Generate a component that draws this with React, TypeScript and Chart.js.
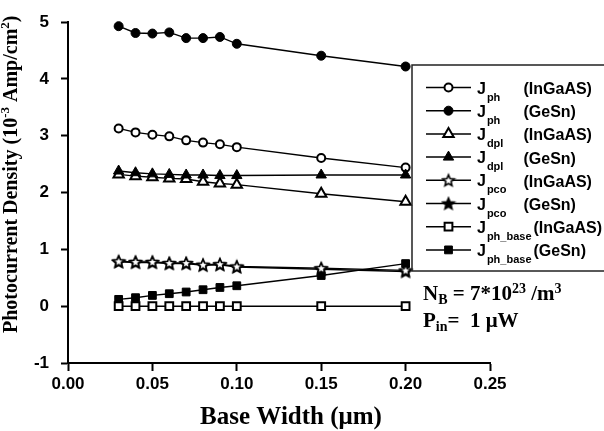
import React, { useEffect, useRef } from 'react';
import { Chart, registerables } from 'chart.js';

Chart.register(...registerables);

// ---------- data ----------
const baseWidth = [0.03, 0.04, 0.05, 0.06, 0.07, 0.08, 0.09, 0.1, 0.15, 0.2];
const jphInGaAs = [3.13, 3.06, 3.02, 2.99, 2.92, 2.88, 2.85, 2.8, 2.61, 2.44];
const jphGeSn = [4.93, 4.81, 4.8, 4.82, 4.72, 4.72, 4.74, 4.62, 4.41, 4.22];
const jdplInGaAs = [2.32, 2.29, 2.27, 2.25, 2.24, 2.19, 2.16, 2.14, 1.98, 1.84];
const jdplGeSn = [2.38, 2.35, 2.33, 2.32, 2.31, 2.31, 2.3, 2.3, 2.31, 2.31];
const jpcoInGaAs = [0.79, 0.78, 0.78, 0.76, 0.76, 0.73, 0.74, 0.7, 0.67, 0.63];
const jpcoGeSn = [0.78, 0.77, 0.77, 0.75, 0.75, 0.72, 0.73, 0.69, 0.65, 0.61];
const jphBaseInGaAs = [0, 0, 0, 0, 0, 0, 0, 0, 0, 0];
const jphBaseGeSn = [0.12, 0.15, 0.19, 0.22, 0.25, 0.29, 0.33, 0.36, 0.54, 0.75];

const xTicks = [0, 0.05, 0.1, 0.15, 0.2, 0.25];
const yTicks = [-1, 0, 1, 2, 3, 4, 5];

const legendSubs = ['ph', 'ph', 'dpl', 'dpl', 'pco', 'pco', 'ph_base', 'ph_base'];
const legendMaterials = ['(InGaAS)', '(GeSn)', '(InGaAS)', '(GeSn)', '(InGaAS)', '(GeSn)', '(InGaAS)', '(GeSn)'];

const xTitle = 'Base Width (\u03bcm)';
const noteNB = ['N', 'B', ' = 7*10', '23', ' /m', '3'];
const notePin = ['P', 'in', '=  1 \u03bcW'];

// ---------- styles ----------
const SANS = "'Liberation Sans', Arial, sans-serif";
const SERIF = "'Liberation Serif', 'Times New Roman', serif";

type Marker = { shape: 'circle' | 'triangle' | 'rect' | 'star'; filled: boolean; r: number };
const markers: Marker[] = [
  { shape: 'circle', filled: false, r: 4 },
  { shape: 'circle', filled: true, r: 4.5 },
  { shape: 'triangle', filled: false, r: 6 },
  { shape: 'triangle', filled: true, r: 6 },
  { shape: 'star', filled: false, r: 6 },
  { shape: 'star', filled: true, r: 6 },
  { shape: 'rect', filled: false, r: 5.5 },
  { shape: 'rect', filled: true, r: 5.5 },
];
const seriesValues = [jphInGaAs, jphGeSn, jdplInGaAs, jdplGeSn, jpcoInGaAs, jpcoGeSn, jphBaseInGaAs, jphBaseGeSn];
const drawOrder = [2, 1, 3, 1, 1, 4, 2, 3];

function starPath(ctx: CanvasRenderingContext2D, cx: number, cy: number, ro: number, ri: number) {
  ctx.beginPath();
  for (let i = 0; i < 10; i++) {
    const a = -Math.PI / 2 + (i * Math.PI) / 5;
    const rr = i % 2 === 0 ? ro : ri;
    const px = cx + Math.cos(a) * rr;
    const py = cy + Math.sin(a) * rr;
    if (i === 0) ctx.moveTo(px, py);
    else ctx.lineTo(px, py);
  }
  ctx.closePath();
}

function makeStar(filled: boolean, r: number): HTMLCanvasElement {
  const c = document.createElement('canvas');
  const s = Math.ceil(r * 2 + 4);
  c.width = s;
  c.height = s;
  const g = c.getContext('2d')!;
  starPath(g, s / 2, s / 2 + 0.5, r, r * 0.45);
  g.fillStyle = filled ? '#000' : '#fff';
  g.fill();
  g.lineWidth = 1.6;
  g.strokeStyle = '#000';
  g.lineJoin = 'miter';
  g.stroke();
  return c;
}

function drawMarker(ctx: CanvasRenderingContext2D, m: Marker, x: number, y: number, star?: HTMLCanvasElement) {
  ctx.save();
  ctx.fillStyle = m.filled ? '#000' : '#fff';
  ctx.strokeStyle = '#000';
  ctx.lineWidth = m.filled ? 1 : 2;
  if (m.shape === 'star' && star) {
    ctx.drawImage(star, x - star.width / 2, y - star.height / 2);
  } else {
    ctx.beginPath();
    if (m.shape === 'circle') {
      ctx.arc(x, y, m.r, 0, Math.PI * 2);
    } else if (m.shape === 'triangle') {
      for (let i = 0; i < 3; i++) {
        const a = (i * 2 * Math.PI) / 3;
        const px = x + Math.sin(a) * m.r;
        const py = y - Math.cos(a) * m.r;
        if (i === 0) ctx.moveTo(px, py);
        else ctx.lineTo(px, py);
      }
      ctx.closePath();
    } else {
      const h = Math.SQRT1_2 * m.r;
      ctx.rect(x - h, y - h, 2 * h, 2 * h);
    }
    ctx.fill();
    ctx.stroke();
  }
  ctx.restore();
}

export default function App() {
  const ref = useRef<HTMLCanvasElement | null>(null);

  useEffect(() => {
    document.body.style.margin = '0';
    const canvas = ref.current!;
    const stars = markers.map((m) => (m.shape === 'star' ? makeStar(m.filled, m.r) : undefined));

    const overlay = {
      id: 'overlay',
      afterDraw(chart: any) {
        const ctx: CanvasRenderingContext2D = chart.ctx;
        ctx.save();
        ctx.fillStyle = '#000';
        ctx.textBaseline = 'alphabetic';
        ctx.textAlign = 'left';

        // y title (rotated)
        ctx.save();
        ctx.translate(17, 333);
        ctx.rotate(-Math.PI / 2);
        let px = 0;
        const big = `bold 20px ${SERIF}`;
        const sup = `bold 13px ${SERIF}`;
        const parts: [string, string, number][] = [
          ['Photocurrent Density (10', big, 0],
          ['-3', sup, -8],
          [' Amp/cm', big, 0],
          ['2', sup, -8],
          [')', big, 0],
        ];
        for (const [t, f, dy] of parts) {
          ctx.font = f;
          ctx.fillText(t, px, dy);
          px += ctx.measureText(t).width;
        }
        ctx.restore();

        // x title
        ctx.font = `bold 25px ${SERIF}`;
        ctx.textAlign = 'center';
        ctx.fillText(xTitle, 291, 424);
        ctx.textAlign = 'left';

        // legend box
        ctx.save();
        ctx.strokeStyle = '#222';
        ctx.lineWidth = 1.5;
        ctx.strokeRect(412, 65, 200, 206);
        ctx.restore();

        for (let i = 0; i < legendSubs.length; i++) {
          const cy = 87.5 + i * 23.2;
          ctx.save();
          ctx.strokeStyle = '#000';
          ctx.lineWidth = 1.5;
          ctx.beginPath();
          ctx.moveTo(426, cy);
          ctx.lineTo(471, cy);
          ctx.stroke();
          ctx.restore();
          drawMarker(ctx, markers[i], 448.5, cy, stars[i]);
          ctx.font = `bold 16px ${SANS}`;
          ctx.fillText('J', 477, cy + 6);
          const jw = ctx.measureText('J').width;
          ctx.font = `bold 11px ${SANS}`;
          ctx.fillText(legendSubs[i], 477 + jw + 1, cy + 13);
          const sw = ctx.measureText(legendSubs[i]).width;
          const mx = Math.max(523.5, 477 + jw + 1 + sw + 2);
          ctx.font = `bold 16px ${SANS}`;
          ctx.fillText(legendMaterials[i], mx, cy + 6.5);
        }

        // annotations
        const drawRich = (segs: [string, string, number][], x: number, y: number) => {
          let cx = x;
          for (const [t, f, dy] of segs) {
            ctx.font = f;
            ctx.fillText(t, cx, y + dy);
            cx += ctx.measureText(t).width;
          }
        };
        const aMain = `bold 21px ${SERIF}`;
        const aSub = `bold 14px ${SERIF}`;
        drawRich(
          [
            [noteNB[0], aMain, 0],
            [noteNB[1], aSub, 4],
            [noteNB[2], aMain, 0],
            [noteNB[3], aSub, -7],
            [noteNB[4], aMain, 0],
            [noteNB[5], aSub, -7],
          ],
          423,
          300
        );
        drawRich(
          [
            [notePin[0], aMain, 0],
            [notePin[1], aSub, 4],
            [notePin[2], aMain, 0],
          ],
          423,
          327
        );
        ctx.restore();
      },
    };

    const chart = new Chart(canvas, {
      type: 'line',
      data: {
        datasets: seriesValues.map((vals, i) => ({
          label: 'J' + legendSubs[i] + ' ' + legendMaterials[i],
          data: baseWidth.map((x, k) => ({ x, y: vals[k] })),
          borderColor: '#000',
          borderWidth: 1.4,
          pointStyle: (markers[i].shape === 'star' ? stars[i] : markers[i].shape) as any,
          pointRadius: markers[i].r,
          pointBackgroundColor: markers[i].filled ? '#000' : '#fff',
          pointBorderColor: '#000',
          pointBorderWidth: markers[i].filled ? 1 : 2,
          order: drawOrder[i],
          tension: 0,
          fill: false,
          clip: false as any,
        })),
      },
      options: {
        animation: false,
        responsive: false,
        devicePixelRatio: 1,
        layout: { padding: { left: 8, right: 114, top: 19, bottom: 0 } },
        plugins: {
          legend: { display: false },
          tooltip: { enabled: false },
        },
        scales: {
          x: {
            type: 'linear',
            min: 0,
            max: 0.25,
            afterBuildTicks: (axis: any) => {
              axis.ticks = xTicks.map((v) => ({ value: v }));
            },
            afterFit: (s: any) => {
              s.height = 68;
            },
            ticks: {
              callback: (v: any) => Number(v).toFixed(2),
              font: { family: SANS, size: 17, weight: 'bold' },
              color: '#000',
              padding: 3,
              maxRotation: 0,
              autoSkip: false,
            },
            grid: {
              drawOnChartArea: false,
              drawTicks: true,
              tickLength: 8,
              tickWidth: 2,
              tickColor: '#000',
            },
            border: { display: true, color: '#000', width: 2 },
          },
          y: {
            type: 'linear',
            min: -1,
            max: 5,
            afterBuildTicks: (axis: any) => {
              axis.ticks = yTicks.map((v) => ({ value: v }));
            },
            afterFit: (s: any) => {
              s.width = 60;
            },
            ticks: {
              callback: (v: any) => String(v),
              font: { family: SANS, size: 17, weight: 'bold' },
              color: '#000',
              padding: 12,
              autoSkip: false,
            },
            grid: {
              drawOnChartArea: false,
              drawTicks: true,
              tickLength: 7,
              tickWidth: 2,
              tickColor: '#000',
            },
            border: { display: true, color: '#000', width: 2 },
          },
        },
      },
      plugins: [overlay],
    } as any);

    return () => chart.destroy();
  }, []);

  return (
    <div style={{ position: 'absolute', left: 0, top: 0, width: 604, height: 431, background: '#fff' }}>
      <canvas ref={ref} width={604} height={431} style={{ display: 'block', width: 604, height: 431 }} />
    </div>
  );
}
